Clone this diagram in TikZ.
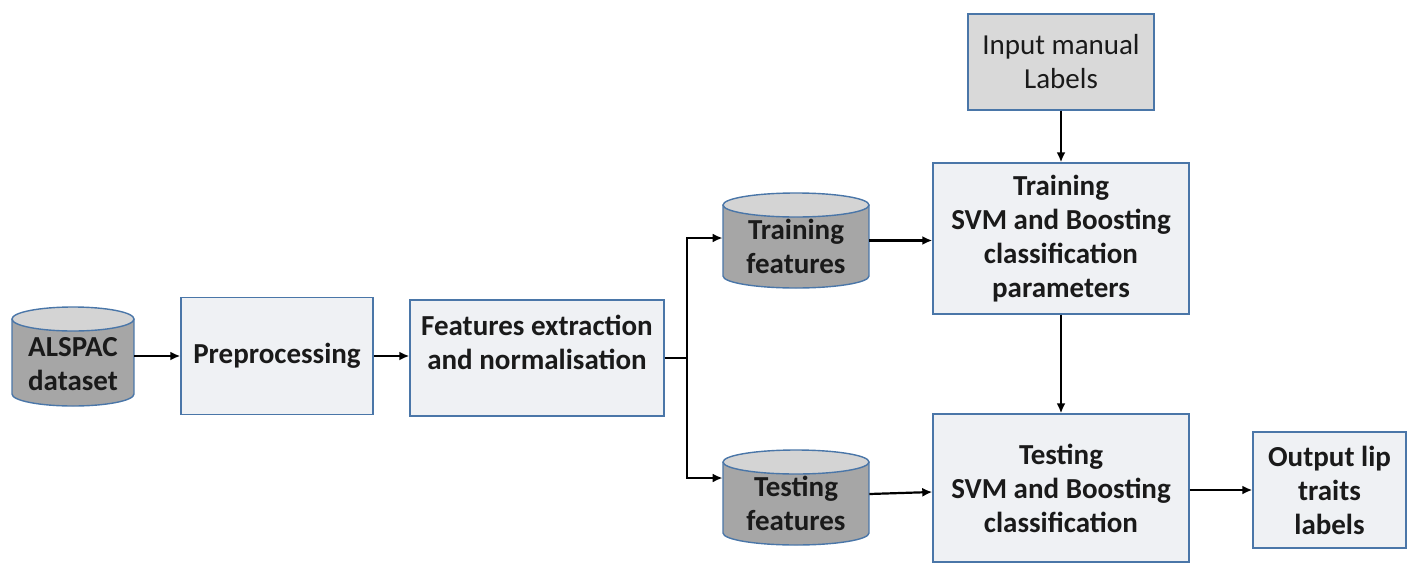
\documentclass[tikz,border=0pt]{standalone}
\usepackage{fontspec}
\setmainfont{Carlito}
\usetikzlibrary{arrows.meta,calc}
\definecolor{bordc}{HTML}{4A76A8}
\definecolor{boxf}{HTML}{EFF1F4}
\definecolor{inpf}{HTML}{D9D9D9}
\definecolor{cylb}{HTML}{A6A6A6}
\definecolor{cylt}{HTML}{D4D4D4}
\definecolor{txt}{HTML}{1A1A1A}
\tikzset{
  boxst/.style={draw=bordc, line width=0.7pt, fill=boxf, inner sep=0pt, align=center,
     font=\bfseries\fontsize{14.5}{17}\selectfont, text=txt},
  inpst/.style={boxst, fill=inpf, font=\fontsize{14.5}{17}\selectfont},
  cylnode/.style={inner sep=0pt},
  cyltext/.style={align=center, font=\bfseries\fontsize{14.5}{17}\selectfont, text=txt, inner sep=0pt},
  conn/.style={line width=1.1pt, -{Latex[length=5pt,width=4.5pt]}},
}
% name, xl, xr, ytop, ybot, text, text yshift (px units, y down)
\newcommand\dbcyl[7]{%
  \fill[cylb] ({#2},{#4+12}) rectangle ({#3},{#5-12});
  \fill[cylb] ({(#2+#3)/2},{#5-12}) ellipse [x radius={(#3-#2)/2}, y radius=12];
  \draw[bordc, line width=0.7pt] ({#2},{#4+12}) -- ({#2},{#5-12})
     arc[start angle=180, end angle=0, x radius={(#3-#2)/2}, y radius=12] -- ({#3},{#4+12});
  \draw[bordc, line width=0.7pt, fill=cylt] ({(#2+#3)/2},{#4+12}) ellipse [x radius={(#3-#2)/2}, y radius=12];
  \node[cylnode, minimum width={(#3-#2)*0.5pt}, minimum height={(#5-#4)*0.5pt}] (#1) at ({(#2+#3)/2},{(#4+#5)/2}) {};
  \node[cyltext] (#1t) at ({(#2+#3)/2},{(#4+#5)/2+#7}) {#6};
}
\begin{document}
\begin{tikzpicture}[x=0.5pt,y=-0.5pt]
\useasboundingbox (0,0) rectangle (1412,562);
% cylinders
\dbcyl{als}{12}{134}{307}{406}{ALSPAC\\dataset}{8}
\dbcyl{trf}{723}{869}{193}{288}{Training\\features}{6}
\dbcyl{tsf}{723}{869}{450}{545}{Testing\\features}{6}
% boxes
\node[boxst, minimum width=96pt, minimum height=58.5pt] (pre) at (277,356) {Preprocessing};
\node[boxst, minimum width=127pt, minimum height=58pt] (fex) at (537,358) {};
\node[cyltext] (fext) at (537,342) {Features extraction\\and normalisation};
\node[inpst, minimum width=93pt, minimum height=48pt] (inp) at (1061,62) {Input manual\\Labels};
\node[boxst, minimum width=128pt, minimum height=75.5pt] (trb) at (1061,238.5) {Training\\SVM and Boosting\\classification\\parameters};
\node[boxst, minimum width=128pt, minimum height=74pt] (tsb) at (1061,488) {Testing\\SVM and Boosting\\classification};
\node[boxst, minimum width=76.5pt, minimum height=58pt] (out) at (1329.5,490) {Output lip\\traits\\labels};
% connectors
\coordinate (br) at (687,358);
\draw[conn] (als.east |- pre.west) -- (pre.west);
\draw[conn] (pre.east) -- (pre.east -| fex.west);
\draw[line width=1.1pt] (fex.east) -- (br);
\draw[conn] (br) |- (trf.west |- 0,238);
\draw[conn] (br) |- (tsf.west |- 0,478);
\draw[conn] (trf.east) -- (trf.east -| trb.west);
\draw[conn] (tsf.east |- 0,494) -- (tsb.west |- 0,492);
\draw[conn] (inp.south) -- (trb.north);
\draw[conn] (trb.south) -- (tsb.north);
\draw[conn] (tsb.east |- out.west) -- (out.west);
\end{tikzpicture}
\end{document}
